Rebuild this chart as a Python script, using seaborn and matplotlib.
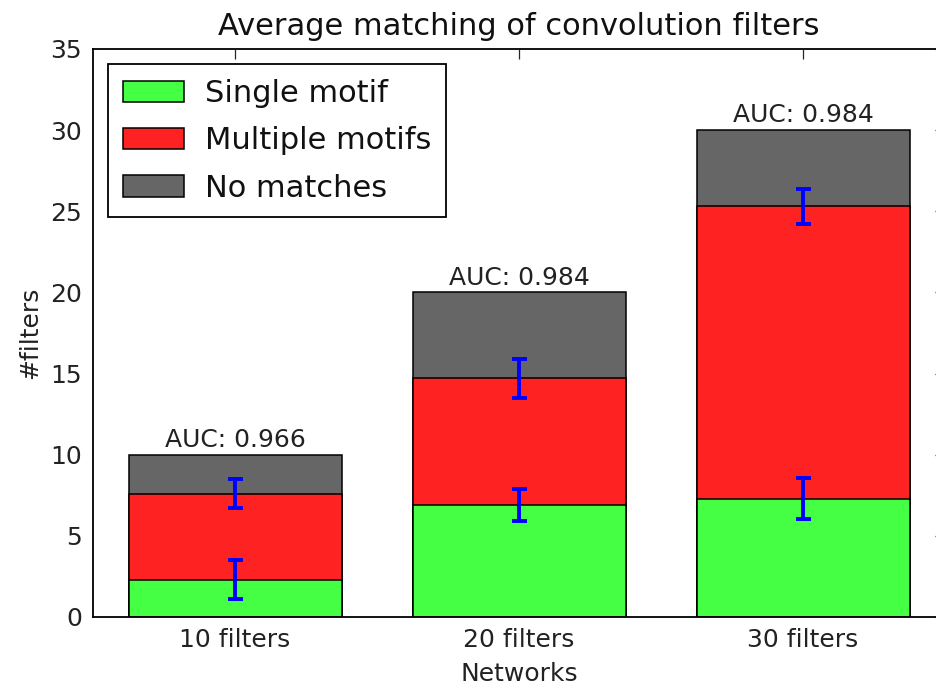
import matplotlib
matplotlib.use("Agg")
import matplotlib.pyplot as plt
from matplotlib.patches import Patch
import seaborn as sns
import pandas as pd

# Average number of convolution filters per match category
networks = ["10 filters", "20 filters", "30 filters"]
single_motif = [2.3, 6.9, 7.3]
multiple_motifs = [5.3, 7.8, 18.0]
no_matches = [2.4, 5.3, 4.7]
single_err = [1.2, 1.0, 1.25]
multiple_err = [0.9, 1.2, 1.1]
auc = ["0.966", "0.984", "0.984"]

GREEN = "#44ff44"
RED = "#ff2222"
GRAY = "#666666"

sns.set_style("white")
plt.rcParams["font.family"] = ["DejaVu Sans"]

df = pd.DataFrame({
    "network": networks,
    "single": single_motif,
    "multiple": multiple_motifs,
    "none": no_matches,
})
df["single_top"] = df["single"]
df["multiple_top"] = df["single"] + df["multiple"]
df["total"] = df["multiple_top"] + df["none"]

fig = plt.figure(figsize=(9.36, 6.88), dpi=100)
ax = fig.add_axes([93 / 936, 71 / 688, 852 / 936, 568 / 688])

bar_kw = dict(width=0.75, edgecolor="black", linewidth=1.1, saturation=1, ax=ax)
sns.barplot(data=df, x="network", y="total", color=GRAY, **bar_kw)
sns.barplot(data=df, x="network", y="multiple_top", color=RED, **bar_kw)
sns.barplot(data=df, x="network", y="single_top", color=GREEN, **bar_kw)

xpos = list(range(len(networks)))
err_kw = dict(fmt="none", ecolor="blue", elinewidth=2.8, capsize=5.4,
              capthick=2.8, zorder=5)
ax.errorbar(xpos, df["single_top"], yerr=single_err, **err_kw)
ax.errorbar(xpos, df["multiple_top"], yerr=multiple_err, **err_kw)

for x, total, a in zip(xpos, df["total"], auc):
    ax.annotate(f"AUC: {a}", xy=(x, total), xytext=(0, 2),
                textcoords="offset points", ha="center", va="bottom",
                fontsize=18, color="#222222")

ax.set_xlim(-0.5, 2.5)
ax.set_ylim(0, 35)
ax.set_yticks(range(0, 36, 5))
ax.set_title("Average matching of convolution filters", fontsize=22, pad=10,
             color="#111111")
ax.set_xlabel("Networks", fontsize=18, color="#222222", labelpad=7)
ax.set_ylabel("#filters", fontsize=18, color="#222222", labelpad=6)
ax.tick_params(direction="in", top=True, right=True, length=7.5, width=0.9,
               labelsize=18, labelcolor="#222222", pad=8)

for s in ax.spines.values():
    s.set_visible(True)
    s.set_color("black")
    s.set_linewidth(1.3)

handles = [
    Patch(facecolor=GREEN, edgecolor="black", linewidth=1.1, label="Single motif"),
    Patch(facecolor=RED, edgecolor="black", linewidth=1.1, label="Multiple motifs"),
    Patch(facecolor=GRAY, edgecolor="black", linewidth=1.1, label="No matches"),
]
leg = ax.legend(handles=handles, loc="upper left", fontsize=22, frameon=True,
                fancybox=False, framealpha=1, edgecolor="black",
                borderaxespad=0.5, handlelength=2.0, handleheight=0.7,
                handletextpad=0.7, labelspacing=0.6, borderpad=0.48)
leg.get_frame().set_linewidth(1.3)
for t in leg.get_texts():
    t.set_color("#111111")

fig.savefig("out.png", dpi=100)
